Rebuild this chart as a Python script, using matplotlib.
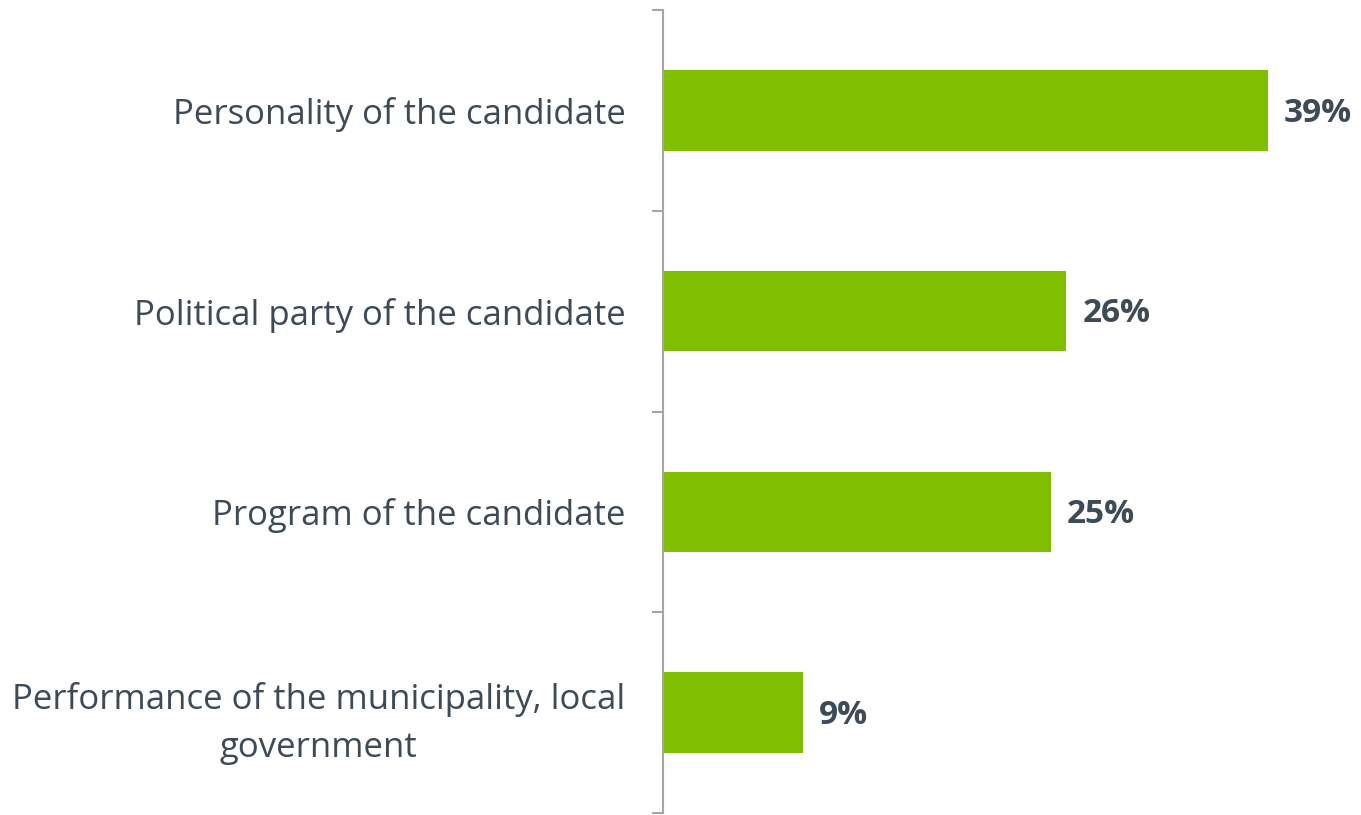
import matplotlib.pyplot as plt
import numpy as np

categories = [
    "Personality of the candidate",
    "Political party of the candidate",
    "Program of the candidate",
    "Performance of the municipality, local\ngovernment",
]
values = [39, 26, 25, 9]
value_labels = ["39%", "26%", "25%", "9%"]

green = "#7FBF00"
text_col = "#3E4A56"
axis_col = "#A6A6A6"

plt.rcParams["font.family"] = ["Open Sans", "DejaVu Sans"]

fig = plt.figure(figsize=(13.61, 8.15), dpi=100)
ax = fig.add_axes([663 / 1361, 2 / 815, 1 - 663 / 1361, 803 / 815])

y = np.arange(len(categories))
ax.barh(y, values, height=0.4, color=green)

for yi, v, lab in zip(y, values, value_labels):
    ax.annotate(lab, (v, yi), xytext=(12, -2), textcoords="offset points",
                va="center", ha="left", fontsize=24, fontweight="bold", color=text_col)

ax.set_xlim(0, 698 / 15.5)
ax.set_ylim(len(categories) - 0.5, -0.5)

ax.set_yticks(y)
ax.set_yticklabels(categories, fontsize=25, color=text_col,
                   multialignment="center", linespacing=1.55)
ax.set_yticks(np.arange(-0.5, len(categories)), minor=True)
ax.tick_params(axis="y", which="major", length=0, pad=27)
ax.tick_params(axis="y", which="minor", length=8, width=1.5, color=axis_col)
ax.set_xticks([])

for s in ["top", "right", "bottom"]:
    ax.spines[s].set_visible(False)
ax.spines["left"].set_color(axis_col)
ax.spines["left"].set_linewidth(1.5)

fig.savefig("out.png", dpi=100)
